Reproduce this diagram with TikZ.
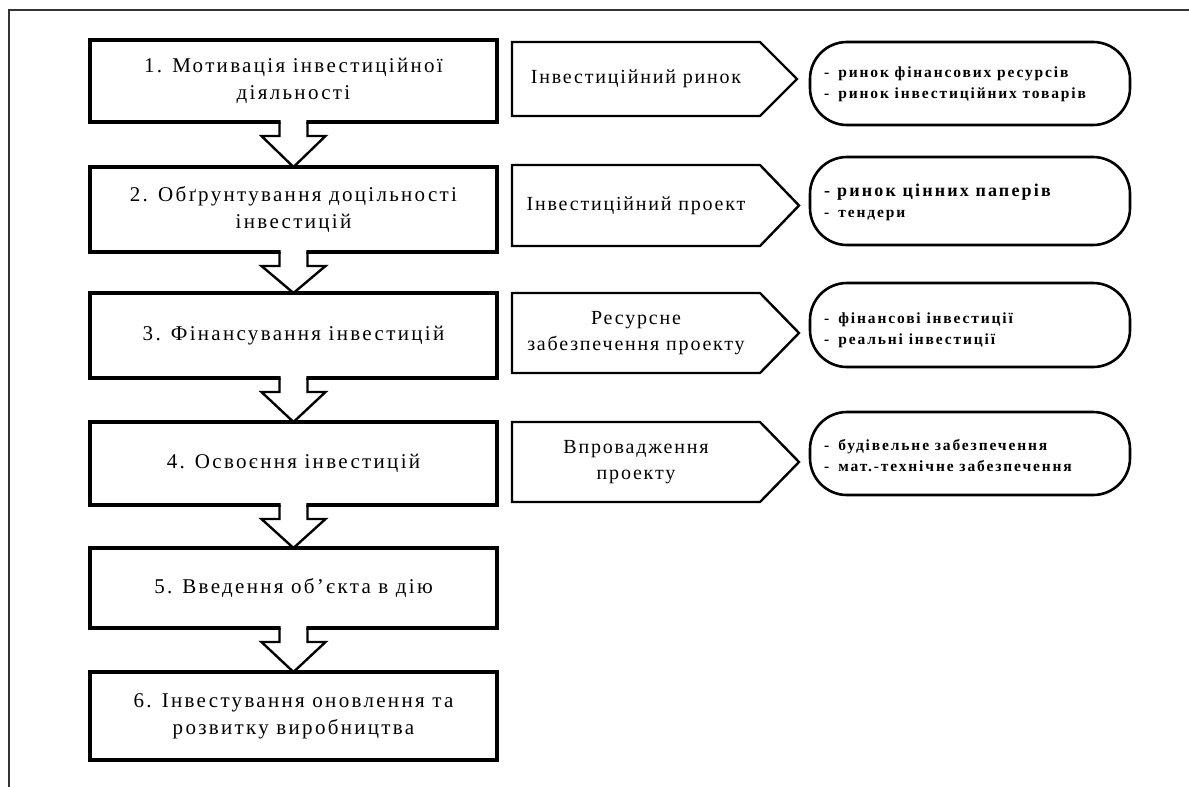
\documentclass[tikz,border=0pt]{standalone}
\usepackage{fontspec}
\setmainfont{Liberation Serif}
\newfontfamily\boxfont[LetterSpace=11]{Liberation Serif}
\newfontfamily\tagfont[LetterSpace=9]{Liberation Serif}
\newfontfamily\smallfont[LetterSpace=12]{Liberation Serif}
\usetikzlibrary{calc}
\tikzset{
  frameline/.style={draw=black!80, line width=2pt},
  stepbox/.style={draw, line width=3.2pt, rectangle, inner sep=0pt, outer sep=0pt,
    minimum width=407pt, align=center, font=\boxfont\fontsize{21}{27}\selectfont},
  tagbox/.style={rectangle, inner sep=0pt, outer sep=0pt, minimum width=248pt,
    align=center, font=\tagfont\fontsize{20}{26}\selectfont},
  tagline/.style={draw, line width=2.4pt, line join=miter},
  ovalbox/.style={draw, line width=2.6pt, rectangle, rounded corners=37pt,
    minimum width=320pt, inner sep=0pt, outer sep=0pt},
  ovaltext/.style={anchor=west, align=left, inner sep=0pt,
    font=\smallfont\bfseries\fontsize{15.5}{21}\selectfont},
  arrowline/.style={draw, line width=2.4pt, line join=miter},
}
\newcommand\blockarr[2]{%
  \path let \p1=(#1.south), \p2=(#2.north) in
    [fill=white] (\x1-12.8pt,\y1+2pt) -- (\x1-12.8pt,\y1-14pt) -- (\x1-31pt,\y1-14pt)
      -- (\x1,\y2) -- (\x1+31pt,\y1-14pt) -- (\x1+12.8pt,\y1-14pt) -- (\x1+12.8pt,\y1+2pt) -- cycle;
  \path let \p1=(#1.south), \p2=(#2.north) in
    [arrowline] (\x1-14pt,\y1) -- (\x1-14pt,\y1-14pt) -- (\x1-32pt,\y1-14pt)
      -- (\x1,\y2) -- (\x1+32pt,\y1-14pt) -- (\x1+14pt,\y1-14pt) -- (\x1+14pt,\y1);
}
% #1 node name, #2 length of the point
\newcommand\tagshape[2]{%
  \path[tagline] (#1.north west) -- (#1.north east) -- ($(#1.east)+(#2,0)$)
    -- (#1.south east) -- (#1.south west) -- cycle;
}
\begin{document}
\begin{tikzpicture}[x=1pt,y=-1pt]
\useasboundingbox (0,0) rectangle (1189,787);
\fill[white] (0,0) rectangle (1189,787);
\path[frameline] (9,787) -- (9,10) -- (1189,10);

% left column
\node[stepbox, minimum height=82pt] (b1) at (293.5,81) {1. Мотивація інвестиційної\\діяльності};
\node[stepbox, minimum height=85pt] (b2) at (293.5,209.5) {2. Обґрунтування доцільності\\інвестицій};
\node[stepbox, minimum height=85pt] (b3) at (293.5,335.5) {3. Фінансування інвестицій};
\node[stepbox, minimum height=83pt] (b4) at (293.5,463.5) {4. Освоєння інвестицій};
\node[stepbox, minimum height=80pt] (b5) at (293.5,588) {5. Введення обʼєкта в дію};
\node[stepbox, minimum height=88pt] (b6) at (293.5,716) {6. Інвестування оновлення та\\розвитку виробництва};

\blockarr{b1}{b2}
\blockarr{b2}{b3}
\blockarr{b3}{b4}
\blockarr{b4}{b5}
\blockarr{b5}{b6}

% middle tags
\node[tagbox, minimum height=74pt] (t1) at (636,79) {Інвестиційний ринок};
\tagshape{t1}{37}
\node[tagbox, minimum height=81pt] (t2) at (636,205.5) {Інвестиційний проект};
\tagshape{t2}{39}
\node[tagbox, minimum height=80pt] (t3) at (636,333) {Ресурсне\\забезпечення проекту};
\tagshape{t3}{39}
\node[tagbox, minimum height=80pt] (t4) at (636,462) {Впровадження\\проекту};
\tagshape{t4}{39}

% right ovals
\node[ovalbox, minimum height=83pt] (o1) at (970,83.5) {};
\node[ovaltext] (o1t) at (824,84) {-\hspace{9pt}ринок фінансових ресурсів\\-\hspace{9pt}ринок інвестиційних товарів};
\node[ovalbox, minimum height=88pt] (o2) at (970,201) {};
\node[ovaltext] (o2t) at (824,202) {\fontsize{18}{21}\selectfont -\hspace{7pt}ринок цінних паперів\\\fontsize{15.5}{21}\selectfont -\hspace{9pt}тендери};
\node[ovalbox, minimum height=84pt] (o3) at (970,325) {};
\node[ovaltext] (o3t) at (824,330) {-\hspace{9pt}фінансові інвестиції\\-\hspace{9pt}реальні інвестиції};
\node[ovalbox, minimum height=83pt] (o4) at (970,453.5) {};
\node[ovaltext] (o4t) at (824,456) {-\hspace{9pt}будівельне забезпечення\\-\hspace{9pt}мат.-технічне забезпечення};
\end{tikzpicture}
\end{document}
